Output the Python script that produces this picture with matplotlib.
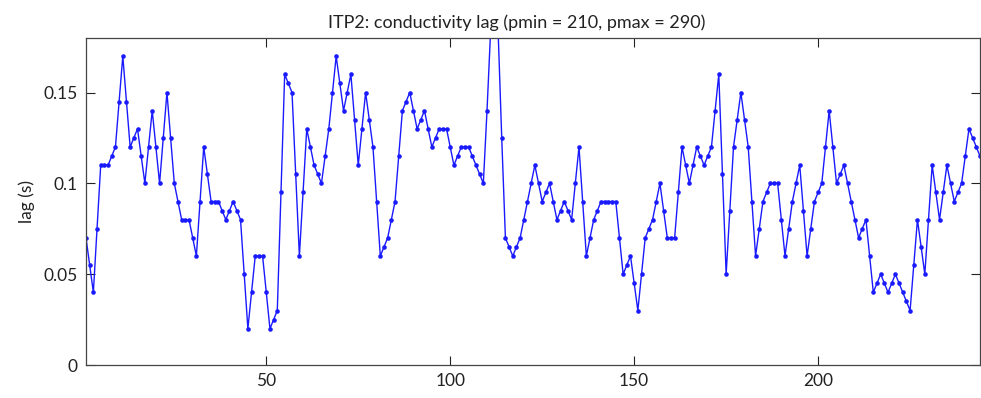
import numpy as np
import matplotlib.pyplot as plt

# Data: conductivity lag per profile
profile = np.arange(1, 245)
lag = [
    0.07, 0.055, 0.04, 0.075, 0.11, 0.11, 0.11, 0.115, 0.12, 0.145,
    0.17, 0.145, 0.12, 0.125, 0.13, 0.115, 0.10, 0.12, 0.14, 0.12,
    0.10, 0.125, 0.15, 0.125, 0.10, 0.09, 0.08, 0.08, 0.08, 0.07,
    0.06, 0.09, 0.12, 0.105, 0.09, 0.09, 0.09, 0.085, 0.08, 0.085,
    0.09, 0.085, 0.08, 0.05, 0.02, 0.04, 0.06, 0.06, 0.06, 0.04,
    0.02, 0.025, 0.03, 0.095, 0.16, 0.155, 0.15, 0.105, 0.06, 0.095,
    0.13, 0.12, 0.11, 0.105, 0.10, 0.115, 0.13, 0.15, 0.17, 0.155,
    0.14, 0.15, 0.16, 0.135, 0.11, 0.13, 0.15, 0.135, 0.12, 0.09,
    0.06, 0.065, 0.07, 0.08, 0.09, 0.115, 0.14, 0.145, 0.15, 0.14,
    0.13, 0.135, 0.14, 0.13, 0.12, 0.125, 0.13, 0.13, 0.13, 0.12,
    0.11, 0.115, 0.12, 0.12, 0.12, 0.115, 0.11, 0.105, 0.10, 0.14,
    0.185, 0.2, 0.185, 0.125, 0.07, 0.065, 0.06, 0.065, 0.07, 0.08,
    0.09, 0.10, 0.11, 0.10, 0.09, 0.095, 0.10, 0.09, 0.08, 0.085,
    0.09, 0.085, 0.08, 0.10, 0.12, 0.09, 0.06, 0.07, 0.08, 0.085,
    0.09, 0.09, 0.09, 0.09, 0.09, 0.07, 0.05, 0.055, 0.06, 0.045,
    0.03, 0.05, 0.07, 0.075, 0.08, 0.09, 0.10, 0.085, 0.07, 0.07,
    0.07, 0.095, 0.12, 0.11, 0.10, 0.11, 0.12, 0.115, 0.11, 0.115,
    0.12, 0.14, 0.16, 0.105, 0.05, 0.085, 0.12, 0.135, 0.15, 0.135,
    0.12, 0.09, 0.06, 0.075, 0.09, 0.095, 0.10, 0.10, 0.10, 0.08,
    0.06, 0.075, 0.09, 0.10, 0.11, 0.085, 0.06, 0.075, 0.09, 0.095,
    0.10, 0.12, 0.14, 0.12, 0.10, 0.105, 0.11, 0.10, 0.09, 0.08,
    0.07, 0.075, 0.08, 0.06, 0.04, 0.045, 0.05, 0.045, 0.04, 0.045,
    0.05, 0.045, 0.04, 0.035, 0.03, 0.055, 0.08, 0.065, 0.05, 0.08,
    0.11, 0.095, 0.08, 0.095, 0.11, 0.10, 0.09, 0.095, 0.10, 0.115,
    0.13, 0.125, 0.12, 0.115,
]
xticks = [50, 100, 150, 200]
yticks = [0, 0.05, 0.1, 0.15]
ytick_labels = ['0', '0.05', '0.1', '0.15']

plt.rcParams['font.family'] = ['Lato', 'DejaVu Sans']

fig = plt.figure(figsize=(9.81, 3.98), dpi=100)
ax = fig.add_axes([86 / 981, 1 - 365 / 398, 894 / 981, 327 / 398])

ax.plot(profile, lag, color='#1a1aff', linewidth=1.0, marker='o',
        markersize=3.3, markeredgewidth=0)

ax.set_xlim(1, 244)
ax.set_ylim(0, 0.18)
ax.set_xticks(xticks)
ax.set_yticks(yticks)
ax.set_yticklabels(ytick_labels)
ax.tick_params(direction='in', length=6.5, width=0.8, top=True, right=True,
               labelsize=12.5, colors='#222222', pad=6)
for s in ax.spines.values():
    s.set_color('#444444')
    s.set_linewidth(0.9)

ax.set_ylabel('lag (s)', fontsize=12.5, color='#222222', labelpad=6)
ax.set_title('ITP2: conductivity lag (pmin = 210, pmax = 290)', fontsize=13,
             color='#222222', pad=7, x=0.482)

fig.savefig('out.png', dpi=100)
